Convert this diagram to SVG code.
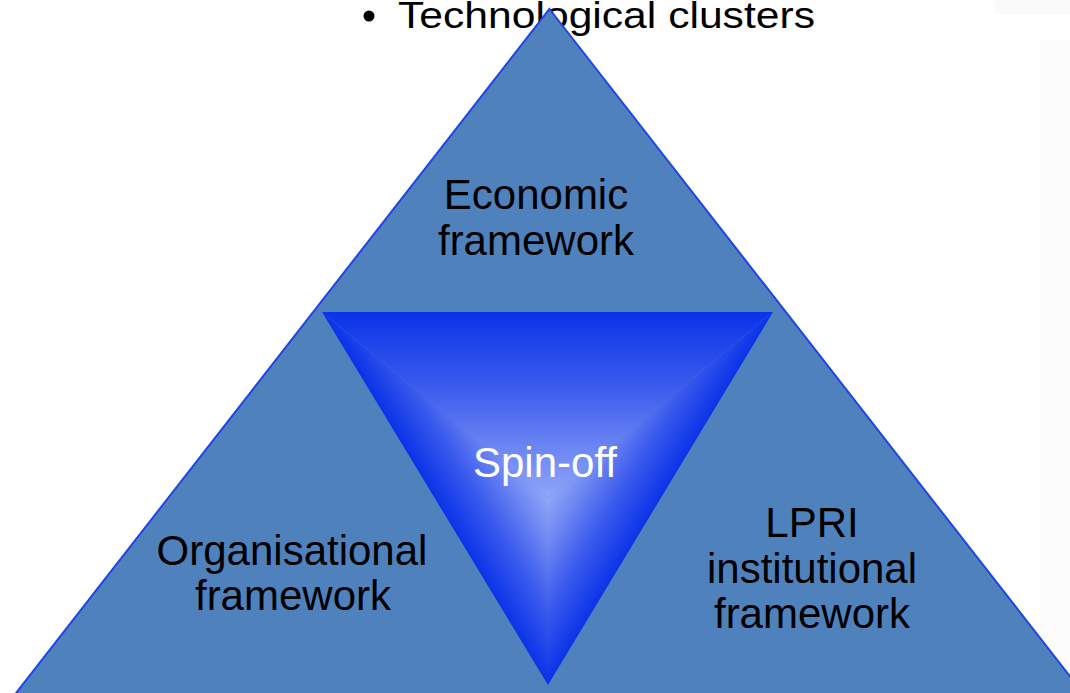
<svg xmlns="http://www.w3.org/2000/svg" width="1070" height="693" viewBox="0 0 1070 693">
  <style>
    .lbl { font-family: "Liberation Sans", Arial, sans-serif; font-size: 42px; fill: #000; text-anchor: middle; }
    .spin { font-family: "Liberation Sans", Arial, sans-serif; font-size: 42px; fill: #fff; text-anchor: middle; }
    .bullet { font-family: "Liberation Sans", Arial, sans-serif; font-size: 37px; fill: #000; }
  </style>
  <defs>
    <linearGradient id="gTop" gradientUnits="userSpaceOnUse" x1="548" y1="312" x2="548" y2="498">
      <stop offset="0" stop-color="#0a33e8"/>
      <stop offset="0.4" stop-color="#3b5bed"/>
      <stop offset="0.75" stop-color="#6f88f3"/>
      <stop offset="1" stop-color="#90a6f8"/>
    </linearGradient>
    <linearGradient id="gLeft" gradientUnits="userSpaceOnUse" x1="465" y1="548" x2="548" y2="498">
      <stop offset="0" stop-color="#0a33e8"/>
      <stop offset="0.4" stop-color="#3b5bed"/>
      <stop offset="0.75" stop-color="#6f88f3"/>
      <stop offset="1" stop-color="#90a6f8"/>
    </linearGradient>
    <linearGradient id="gRight" gradientUnits="userSpaceOnUse" x1="631" y1="548" x2="548" y2="498">
      <stop offset="0" stop-color="#0a33e8"/>
      <stop offset="0.4" stop-color="#3b5bed"/>
      <stop offset="0.75" stop-color="#6f88f3"/>
      <stop offset="1" stop-color="#90a6f8"/>
    </linearGradient>
  </defs>
  <rect x="0" y="0" width="1070" height="693" fill="#ffffff"/>
  <rect x="995" y="0" width="75" height="14" fill="#fafafa"/>
  <rect x="1040" y="40" width="30" height="653" fill="#fcfcfc"/>

  <g id="title">
    <circle cx="369" cy="16" r="5.5" fill="#000"/>
    <text class="bullet" x="398" y="28" textLength="417" lengthAdjust="spacingAndGlyphs">Technological clusters</text>
  </g>

  <g id="outer-triangle">
    <polygon points="549.5,9 1104,720 -5,720" fill="#4f81bd" stroke="#1f45e6" stroke-width="2"/>
  </g>

  <g id="economic">
    <text class="lbl" x="536" y="209">Economic</text>
    <text class="lbl" x="536" y="255">framework</text>
  </g>

  <g id="organisational">
    <text class="lbl" x="292" y="565">Organisational</text>
    <text class="lbl" x="293" y="610">framework</text>
  </g>

  <g id="lpri">
    <text class="lbl" x="812" y="537">LPRI</text>
    <text class="lbl" x="812" y="583">institutional</text>
    <text class="lbl" x="812" y="628">framework</text>
  </g>

  <g id="spin-off">
    <polygon points="322,312 773,312 548,498" fill="url(#gTop)"/>
    <polygon points="322,312 548,498 548,685" fill="url(#gLeft)"/>
    <polygon points="773,312 548,685 548,498" fill="url(#gRight)"/>
    <text class="spin" x="545" y="477">Spin-off</text>
  </g>

  <g id="connectors"></g>
</svg>
